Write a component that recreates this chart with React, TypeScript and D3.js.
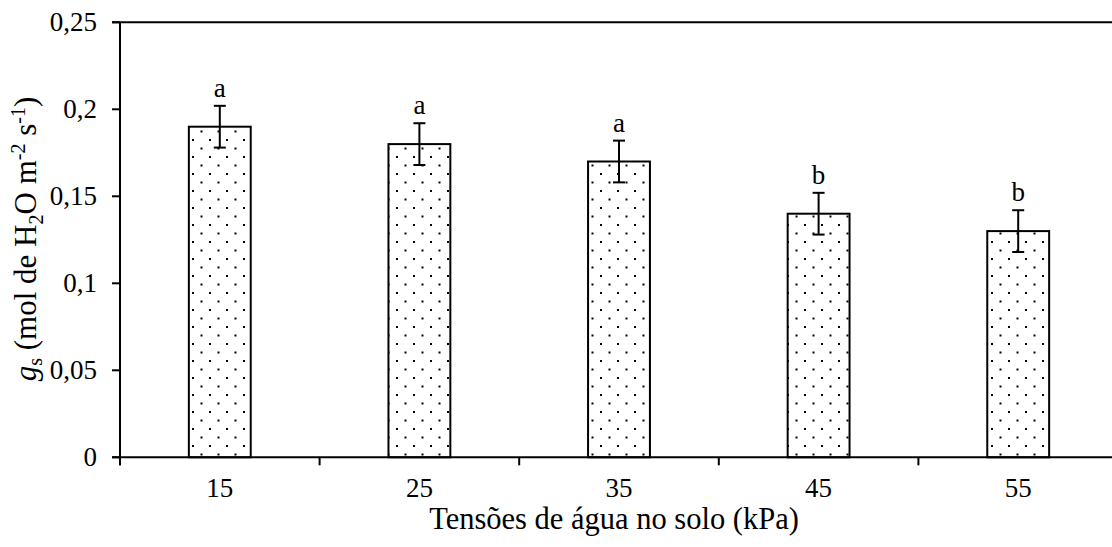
import React from "react";
import * as d3 from "d3";

const categories = ["15", "25", "35", "45", "55"];
const values = [0.19, 0.18, 0.17, 0.14, 0.13];
const errors = [0.012, 0.012, 0.012, 0.012, 0.012];
const letters = ["a", "a", "a", "b", "b"];
const yTicks = [0, 0.05, 0.1, 0.15, 0.2, 0.25];
const yTickLabels = ["0", "0,05", "0,1", "0,15", "0,2", "0,25"];

const W = 1112;
const H = 547;
const left = 120;
const right = 1118;
const top = 22.3;
const bottom = 457.3;
const FONT = "'Liberation Serif', 'Times New Roman', serif";
const FS = 27;
const FT = 30.5;

export default function App() {
  const x = d3.scaleBand<string>().domain(categories).range([left, right]).paddingInner(0).paddingOuter(0);
  const y = d3.scaleLinear().domain([0, 0.25]).range([bottom, top]);
  const bw = x.bandwidth() * 0.31;
  const boundaries = categories.map((c) => x(c) as number).concat([right]);

  return (
    <svg width={W} height={H} style={{ position: "absolute", left: 0, top: 0, background: "#fff" }} fontFamily={FONT}>
      <defs>
        <pattern id="dots" patternUnits="userSpaceOnUse" width={17} height={17} x={2} y={0}>
          <rect x={3} y={3} width={2} height={2} fill="#000" />
          <rect x={11.5} y={11.5} width={2} height={2} fill="#000" />
        </pattern>
      </defs>
      <rect x={0} y={0} width={W} height={H} fill="#fff" />
      {categories.map((c, i) => {
        const cx = (x(c) as number) + x.bandwidth() / 2;
        const yv = y(values[i]);
        return (
          <g key={c}>
            <rect x={cx - bw / 2} y={yv} width={bw} height={bottom - yv} fill="#fff" />
            <rect x={cx - bw / 2} y={yv} width={bw} height={bottom - yv} fill="url(#dots)" stroke="#000" strokeWidth={2} />
          </g>
        );
      })}
      {categories.map((c, i) => {
        const cx = (x(c) as number) + x.bandwidth() / 2;
        const yt = y(values[i] + errors[i]);
        const yb = y(values[i] - errors[i]);
        return (
          <g key={"e" + c} stroke="#000" strokeWidth={2}>
            <line x1={cx} x2={cx} y1={yt} y2={yb} />
            <line x1={cx - 6} x2={cx + 6} y1={yt} y2={yt} />
            <line x1={cx - 6} x2={cx + 6} y1={yb} y2={yb} />
          </g>
        );
      })}
      {categories.map((c, i) => {
        const cx = (x(c) as number) + x.bandwidth() / 2;
        const yt = y(values[i] + errors[i]);
        return (
          <text key={"l" + c} x={cx} y={yt - 9} textAnchor="middle" fontSize={FS} fill="#000">
            {letters[i]}
          </text>
        );
      })}
      <line x1={left} x2={left} y1={top} y2={bottom + 8} stroke="#000" strokeWidth={2} />
      <line x1={left - 8} x2={right} y1={top} y2={top} stroke="#000" strokeWidth={2} />
      <line x1={left - 8} x2={right} y1={bottom} y2={bottom} stroke="#000" strokeWidth={2} />
      {yTicks.map((t, i) => (
        <g key={"yt" + i}>
          <line x1={left - 8} x2={left} y1={y(t)} y2={y(t)} stroke="#000" strokeWidth={2} />
          <text x={97} y={y(t) + 9} textAnchor="end" fontSize={FS} fill="#000">
            {yTickLabels[i]}
          </text>
        </g>
      ))}
      {boundaries.map((b, i) => (
        <line key={"xt" + i} x1={b} x2={b} y1={bottom} y2={bottom + 8} stroke="#000" strokeWidth={2} />
      ))}
      {categories.map((c) => (
        <text key={"xl" + c} x={(x(c) as number) + x.bandwidth() / 2} y={497} textAnchor="middle" fontSize={FS} fill="#000">
          {c}
        </text>
      ))}
      <text x={614} y={529} textAnchor="middle" fontSize={FT} fill="#000">
        Tensões de água no solo (kPa)
      </text>
      <text transform={`translate(36,239) rotate(-90)`} textAnchor="middle" fontSize={31} fill="#000">
        <tspan fontStyle="italic">g</tspan>
        <tspan fontSize={20} dy={6}>s</tspan>
        <tspan dy={-6}> (mol de H</tspan>
        <tspan fontSize={20} dy={7}>2</tspan>
        <tspan dy={-7}>O m</tspan>
        <tspan fontSize={20} dy={-11}>-2</tspan>
        <tspan dy={11}> s</tspan>
        <tspan fontSize={20} dy={-11}>-1</tspan>
        <tspan dy={11}>)</tspan>
      </text>
    </svg>
  );
}
